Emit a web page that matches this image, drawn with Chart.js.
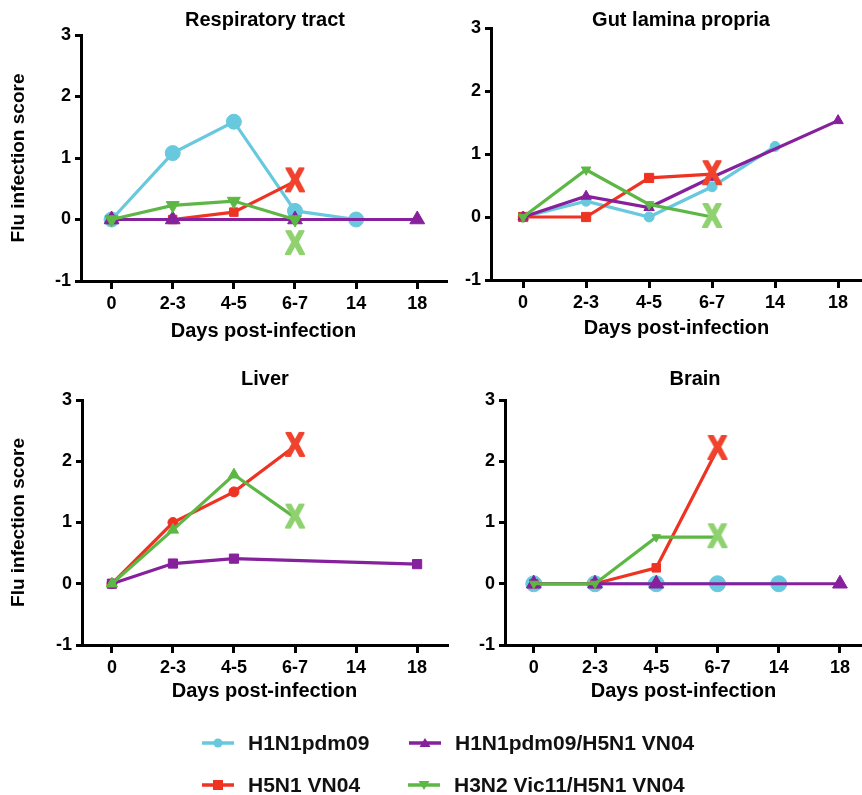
<!DOCTYPE html>
<html>
<head>
<meta charset="utf-8">
<script src="https://cdn.jsdelivr.net/npm/chart.js@4.4.1/dist/chart.umd.min.js"></script>
<style>
  body { margin: 0; background: #fff; }
  #wrap { position: relative; width: 862px; height: 795px; overflow: hidden; font-family: 'Liberation Sans', Arial, sans-serif; }
  #wrap canvas { position: absolute; left: 0; top: 0; }
  .leg { position: absolute; display: flex; align-items: center; height: 30px; font-weight: bold; font-size: 21px; color: #111; white-space: nowrap; }
  .leg svg { margin-right: 14px; }
</style>
</head>
<body>
<div id="wrap">
  <canvas id="resp" width="862" height="795"></canvas>
  <canvas id="gut" width="862" height="795"></canvas>
  <canvas id="liver" width="862" height="795"></canvas>
  <canvas id="brain" width="862" height="795"></canvas>
</div>
<script>
const days = ['0', '2-3', '4-5', '6-7', '14', '18'];
const yTicks = [-1, 0, 1, 2, 3];
const seriesNames = ['H1N1pdm09', 'H5N1 VN04', 'H1N1pdm09/H5N1 VN04', 'H3N2 Vic11/H5N1 VN04'];

// Respiratory tract
const respH1N1 = [0, 1.08, 1.59, 0.14, 0, null];
const respH5N1 = [0, 0, 0.12, 0.62, null, null];
const respCoinf = [0, 0, null, 0, null, 0];
const respH3N2 = [0, 0.23, 0.3, 0, null, null];
const respH5N1Dead = [null, null, null, 0.62, null, null];
const respH3N2Dead = [null, null, null, -0.4, null, null];

// Gut lamina propria
const gutH1N1 = [0, 0.25, 0, 0.48, 1.12, null];
const gutH5N1 = [0, 0, 0.62, 0.68, null, null];
const gutCoinf = [0, 0.33, 0.15, 0.63, null, 1.53];
const gutH3N2 = [0, 0.75, 0.2, 0, null, null];
const gutH5N1Dead = [null, null, null, 0.68, null, null];
const gutH3N2Dead = [null, null, null, 0, null, null];

// Liver
const liverH1N1 = [null, null, null, null, null, null];
const liverH5N1 = [0, 1.0, 1.5, 2.25, null, null];
const liverCoinf = [0, 0.33, 0.41, null, null, 0.32];
const liverH3N2 = [0, 0.88, 1.78, 1.08, null, null];
const liverH5N1Dead = [null, null, null, 2.25, null, null];
const liverH3N2Dead = [null, null, null, 1.08, null, null];

// Brain
const brainH1N1 = [0, 0, 0, 0, 0, null];
const brainH5N1 = [0, 0, 0.26, 2.2, null, null];
const brainCoinf = [0, 0, 0, null, null, 0];
const brainH3N2 = [0, 0, 0.76, 0.76, null, null];
const brainH5N1Dead = [null, null, null, 2.2, null, null];
const brainH3N2Dead = [null, null, null, 0.76, null, null];

const colors = { h1n1: '#68c8de', h5n1: '#ee3323', coinf: '#86209c', h3n2: '#5db744' };
const deadColors = { h5n1: '#f0432d', h3n2: '#8fd26f' };
const fontFamily = "'Liberation Sans', Arial, sans-serif";

const panels = [
    {
        id: 'resp', title: 'Respiratory tract', yTitle: true,
        box: { left: 81, right: 446, top: 35, bottom: 281, xMin: -0.5, xMax: 5.47, xAxisH: 62, titleX: 265, titleY: 20 },
        series: {
            h1n1: { data: respH1N1, style: 'circle', r: 7.5 },
            h5n1: { data: respH5N1, style: 'rect', r: 6, dead: respH5N1Dead },
            coinf: { data: respCoinf, style: 'triangle', r: 8.5 },
            h3n2: { data: respH3N2, style: 'triangle', rot: 180, r: 7.5, dead: respH3N2Dead }
        }
    },
    {
        id: 'gut', title: 'Gut lamina propria', yTitle: false,
        box: { left: 491, right: 862, top: 28, bottom: 280, xMin: -0.51, xMax: 5.38, xAxisH: 60, titleX: 681, titleY: 20 },
        series: {
            h1n1: { data: gutH1N1, style: 'circle', r: 5 },
            h5n1: { data: gutH5N1, style: 'rect', r: 6.5, dead: gutH5N1Dead },
            coinf: { data: gutCoinf, style: 'triangle', r: 6 },
            h3n2: { data: gutH3N2, style: 'triangle', rot: 180, r: 5.5, dead: gutH3N2Dead }
        }
    },
    {
        id: 'liver', title: 'Liver', yTitle: true,
        box: { left: 82, right: 447, top: 400, bottom: 645, xMin: -0.49, xMax: 5.49, xAxisH: 58, titleX: 265, titleY: 379 },
        series: {
            h1n1: { data: liverH1N1, style: 'circle', r: 5 },
            h5n1: { data: liverH5N1, style: 'circle', r: 5, dead: liverH5N1Dead },
            coinf: { data: liverCoinf, style: 'rect', r: 6.5 },
            h3n2: { data: liverH3N2, style: 'triangle', r: 6.5, dead: liverH3N2Dead }
        }
    },
    {
        id: 'brain', title: 'Brain', yTitle: false,
        box: { left: 505, right: 862, top: 400, bottom: 645, xMin: -0.47, xMax: 5.36, xAxisH: 58, titleX: 695, titleY: 379 },
        series: {
            h1n1: { data: brainH1N1, style: 'circle', r: 8 },
            h5n1: { data: brainH5N1, style: 'rect', r: 6, dead: brainH5N1Dead },
            coinf: { data: brainCoinf, style: 'triangle', r: 8.5 },
            h3n2: { data: brainH3N2, style: 'triangle', rot: 180, r: 5, dead: brainH3N2Dead }
        }
    }
];

// bold "X" used for the animals that died
const makeX = (color) => {
    const c = document.createElement('canvas');
    c.width = 26;
    c.height = 30;
    const g = c.getContext('2d');
    g.fillStyle = color;
    g.strokeStyle = color;
    g.lineWidth = 2.2;
    g.lineJoin = 'round';
    g.font = 'bold 33px ' + fontFamily;
    g.textAlign = 'center';
    g.textBaseline = 'middle';
    g.scale(0.86, 1);
    g.fillText('X', 13 / 0.86, 16);
    g.strokeText('X', 13 / 0.86, 16);
    return c;
};

const panelTitle = {
    id: 'panelTitle',
    afterDraw: (chart, args, opts) => {
        const ctx = chart.ctx;
        ctx.save();
        ctx.font = 'bold 20px ' + fontFamily;
        ctx.fillStyle = '#000';
        ctx.textAlign = 'center';
        ctx.textBaseline = 'middle';
        ctx.fillText(opts.text, opts.x, opts.y);
        ctx.restore();
    }
};

const toPoints = (arr) => arr.map((v, i) => ({ x: i, y: v }));

const buildDatasets = (series) => {
    const order = { h3n2: 1, coinf: 2, h5n1: 3, h1n1: 4 };
    const sets = [];
    Object.keys(series).forEach(key => {
        const s = series[key];
        sets.push({
            data: toPoints(s.data),
            borderColor: colors[key],
            backgroundColor: colors[key],
            borderWidth: 3.2,
            pointStyle: s.style,
            pointRotation: s.rot || 0,
            pointBorderWidth: 1,
            pointBorderColor: colors[key],
            pointBackgroundColor: colors[key],
            pointRadius: (ctx) => {
                const d = s.dead ? s.dead[ctx.dataIndex] : null;
                return d !== null && d !== undefined && d === s.data[ctx.dataIndex] ? 0 : s.r;
            },
            spanGaps: true,
            clip: false,
            order: order[key]
        });
        if (s.dead) {
            sets.push({
                data: toPoints(s.dead),
                showLine: false,
                pointStyle: makeX(deadColors[key]),
                clip: false,
                order: 0
            });
        }
    });
    return sets;
};

const W = 862, H = 795;

panels.forEach(p => {
    const b = p.box;
    const yWidth = p.yTitle ? b.left : 40;
    new Chart(document.getElementById(p.id), {
        type: 'line',
        data: { datasets: buildDatasets(p.series) },
        options: {
            responsive: false,
            animation: false,
            events: [],
            layout: {
                autoPadding: false,
                padding: { left: b.left - yWidth, right: W - b.right, top: b.top, bottom: H - b.bottom - b.xAxisH }
            },
            plugins: {
                legend: { display: false },
                tooltip: { enabled: false },
                panelTitle: { text: p.title, x: b.titleX, y: b.titleY }
            },
            scales: {
                x: {
                    type: 'linear',
                    min: b.xMin,
                    max: b.xMax,
                    afterBuildTicks: (s) => { s.ticks = days.map((d, i) => ({ value: i })); },
                    afterFit: (s) => { s.height = b.xAxisH; s.paddingLeft = 0; s.paddingRight = 0; },
                    border: { color: '#000', width: 3 },
                    grid: { drawOnChartArea: false, color: '#000', lineWidth: 3, tickLength: 8 },
                    ticks: {
                        color: '#000',
                        padding: 4,
                        maxRotation: 0,
                        autoSkip: false,
                        font: { family: fontFamily, size: 18, weight: 'bold' },
                        callback: (v) => days[v]
                    },
                    title: {
                        display: true,
                        text: 'Days post-infection',
                        color: '#000',
                        padding: { top: 0, bottom: 0 },
                        font: { family: fontFamily, size: 20, weight: 'bold' }
                    }
                },
                y: {
                    min: -1,
                    max: 3,
                    afterBuildTicks: (s) => { s.ticks = yTicks.map(v => ({ value: v })); },
                    afterFit: (s) => { s.width = yWidth; s.paddingTop = 0; s.paddingBottom = 0; },
                    border: { color: '#000', width: 3 },
                    grid: { drawOnChartArea: false, color: '#000', lineWidth: 3, tickLength: 6 },
                    ticks: {
                        color: '#000',
                        padding: 4,
                        font: { family: fontFamily, size: 18, weight: 'bold' }
                    },
                    title: {
                        display: p.yTitle,
                        text: 'Flu infection score',
                        color: '#000',
                        padding: { top: 7, bottom: 0 },
                        font: { family: fontFamily, size: 19, weight: 'bold' }
                    }
                }
            }
        },
        plugins: [panelTitle]
    });
});

// legend below the panels
const legendItems = [
    { key: 'h1n1', name: seriesNames[0], shape: 'circle', x: 202, y: 743 },
    { key: 'h5n1', name: seriesNames[1], shape: 'rect', x: 202, y: 785 },
    { key: 'coinf', name: seriesNames[2], shape: 'tri', x: 409, y: 743 },
    { key: 'h3n2', name: seriesNames[3], shape: 'triDown', x: 408, y: 785 }
];

const markerSvg = (shape, color) => {
    let m = '';
    if (shape === 'circle') m = `<circle cx="16" cy="8" r="4.5" fill="${color}"/>`;
    if (shape === 'rect') m = `<rect x="11" y="3" width="10" height="10" fill="${color}"/>`;
    if (shape === 'tri') m = `<polygon points="16,3 21.5,12 10.5,12" fill="${color}"/>`;
    if (shape === 'triDown') m = `<polygon points="16,13 21.5,4 10.5,4" fill="${color}"/>`;
    return `<svg width="32" height="16"><line x1="0" y1="8" x2="32" y2="8" stroke="${color}" stroke-width="3.5"/>${m}</svg>`;
};

const wrap = document.getElementById('wrap');
legendItems.forEach(item => {
    const div = document.createElement('div');
    div.className = 'leg';
    div.style.left = item.x + 'px';
    div.style.top = (item.y - 15) + 'px';
    div.innerHTML = markerSvg(item.shape, colors[item.key]);
    const span = document.createElement('span');
    span.textContent = item.name;
    div.appendChild(span);
    wrap.appendChild(div);
});
</script>
</body>
</html>
